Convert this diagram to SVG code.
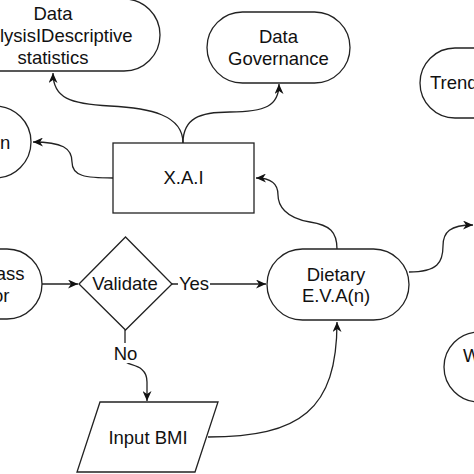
<svg xmlns="http://www.w3.org/2000/svg" width="474" height="474" viewBox="0 0 474 474">
<defs>
<style>
.s{fill:#fff;stroke:#222;stroke-width:1.3}
.e{fill:none;stroke:#222;stroke-width:1.3}
.t{font-family:"Liberation Sans",Arial,Helvetica,sans-serif;font-size:18.5px;fill:#111;text-anchor:middle}
.l{text-anchor:start}
.r{text-anchor:end}
</style>
<marker id="a" markerWidth="11" markerHeight="9" refX="10" refY="4.5" orient="auto" markerUnits="userSpaceOnUse">
<path d="M0,0 L10,4.5 L0,9 L3,4.5 Z" fill="#111"/>
</marker>
</defs>
<rect width="474" height="474" fill="#fff"/>
<g id="connectors">
<path class="e" d="M113,178 C85,178 72,176 72,162 C72,148 62,142 33,142" marker-end="url(#a)"/>
<path class="e" d="M183,143 C183,115 150,108 110,106 C70,104 53,98 53,73" marker-end="url(#a)"/>
<path class="e" d="M183,143 C183,118 200,112 230,112 C265,112 279,106 279,84" marker-end="url(#a)"/>
<path class="e" d="M337,249 C337,232 330,225 310,222 C285,218 278,205 278,195 C278,184 272,178 256,178" marker-end="url(#a)"/>
<path class="e" d="M409,272 C438,272 443,262 443,246 C443,232 450,225 473,225" marker-end="url(#a)"/>
<path class="e" d="M42,284 L78,284" marker-end="url(#a)"/>
<path class="e" d="M172,284 L266,284" marker-end="url(#a)"/>
<path class="e" d="M125,330 L125,360 C125,367 147,362 147,382 L147,401" marker-end="url(#a)"/>
<path class="e" d="M208,437 C300,437 337,410 337,322" marker-end="url(#a)"/>
</g>
<g id="labels">
<rect x="178" y="274" width="32" height="20" fill="#fff"/>
<text class="t" x="194" y="290">Yes</text>
<rect x="113" y="343" width="25" height="20" fill="#fff"/>
<text class="t" x="125.5" y="359.5">No</text>
</g>
<g id="data-analysis">
<rect class="s" x="-60" y="-1" width="220" height="72" rx="36"/>
<text class="t" x="53" y="19.5">Data</text>
<text class="t l" x="0" y="41.5">lysisIDescriptive</text>
<text class="t" x="53" y="63.5">statistics</text>
</g>
<g id="data-governance">
<rect class="s" x="207" y="12" width="143" height="71" rx="35.5"/>
<text class="t" x="278.5" y="42.5">Data</text>
<text class="t" x="278.5" y="64.5">Governance</text>
</g>
<g id="trend">
<rect class="s" x="420" y="48" width="120" height="70" rx="35"/>
<text class="t l" x="430" y="88.5">Trend</text>
</g>
<g id="xai">
<rect class="s" x="113" y="143" width="141" height="70"/>
<text class="t" x="183.5" y="183.5">X.A.I</text>
</g>
<g id="left-top">
<rect class="s" x="-100" y="106" width="131" height="72" rx="36"/>
<text class="t l" x="0" y="148.5">n</text>
</g>
<g id="left-mid">
<rect class="s" x="-90" y="249" width="132" height="70" rx="35"/>
<text class="t r" x="24.5" y="279.5">ass</text>
<text class="t r" x="9.5" y="301.5">or</text>
</g>
<g id="validate">
<path class="s" d="M79,284 L125.5,237 L172,284 L125.5,330 Z"/>
<text class="t" x="125" y="289.5">Validate</text>
</g>
<g id="dietary">
<rect class="s" x="267" y="249" width="142" height="71" rx="35.5"/>
<text class="t" x="336" y="280.5">Dietary</text>
<text class="t" x="336" y="301.5">E.V.A(n)</text>
</g>
<g id="w-node">
<rect class="s" x="444" y="332" width="120" height="70" rx="35"/>
<text class="t l" x="463" y="361.5">W</text>
</g>
<g id="input-bmi">
<path class="s" d="M100,402 L218,402 L195,472 L77,472 Z"/>
<text class="t" x="148" y="443.5">Input BMI</text>
</g>
</svg>
